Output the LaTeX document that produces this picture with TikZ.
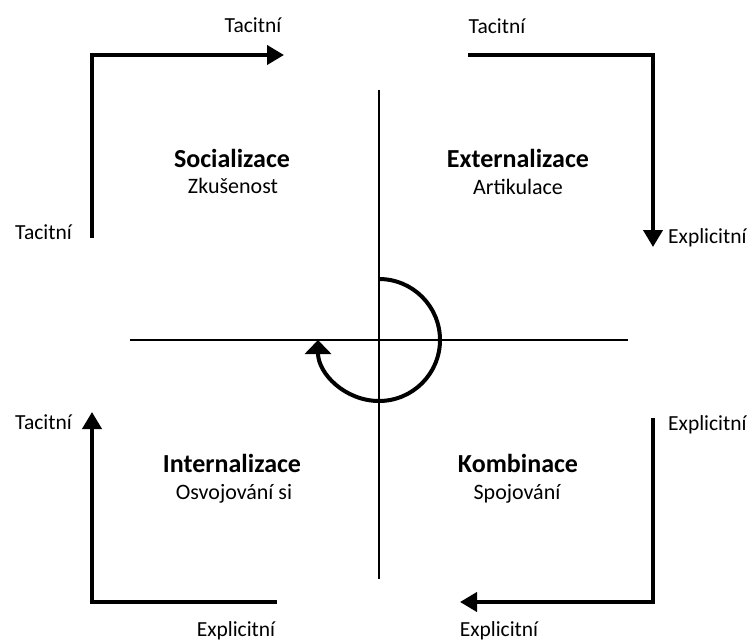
\documentclass[tikz,border=0pt]{standalone}
\usepackage{fontspec}
\setmainfont{Carlito}
\usetikzlibrary{arrows.meta}
\begin{document}
\begin{tikzpicture}[x=1pt,y=-1pt,
  lbl/.style={font=\fontsize{21.5}{26}\selectfont, inner sep=0pt},
  ttl/.style={font=\fontsize{26}{30}\selectfont\bfseries, inner sep=0pt},
  sub/.style={font=\fontsize{22}{26}\selectfont, inner sep=0pt},
  bigarrow/.style={line width=4pt, -{Triangle[length=17pt,width=19pt]}},
  axis/.style={line width=1.4pt}]
\useasboundingbox (0,0) rectangle (751,644);
% axes
\coordinate (vt) at (379,90);
\coordinate (vb) at (379,579);
\coordinate (hl) at (130,340);
\coordinate (hr) at (628,340);
\draw[axis] (vt) -- (vb);
\draw[axis] (hl) -- (hr);
% spiral circle
\coordinate (ctop) at (379,279);
\draw[line width=4pt, -{Triangle[length=14pt,width=26pt]}] (ctop) arc[start angle=-90, end angle=180, radius=61];
% corner arrows
\coordinate (a1s) at (92,238);
\coordinate (a1c) at (92,55);
\coordinate (a1e) at (284,55);
\draw[bigarrow] (a1s) -- (a1c) -- (a1e);
\coordinate (a2s) at (468,55);
\coordinate (a2c) at (653,55);
\coordinate (a2e) at (653,247);
\draw[bigarrow] (a2s) -- (a2c) -- (a2e);
\coordinate (a3s) at (653,418);
\coordinate (a3c) at (653,602);
\coordinate (a3e) at (460,602);
\draw[bigarrow] (a3s) -- (a3c) -- (a3e);
\coordinate (a4s) at (277,602);
\coordinate (a4c) at (92,602);
\coordinate (a4e) at (92,412);
\draw[bigarrow] (a4s) -- (a4c) -- (a4e);
% labels
\node[lbl] (t1) at (253,25) {Tacitní};
\node[lbl] (t2) at (497,26) {Tacitní};
\node[lbl, anchor=east] (t3) at (72,232) {Tacitní};
\node[lbl, anchor=west] (e1) at (668,238) {Explicitní};
\node[lbl, anchor=east] (t4) at (72,422) {Tacitní};
\node[lbl, anchor=west] (e2) at (668,425) {Explicitní};
\node[lbl] (e3) at (236,631) {Explicitní};
\node[lbl] (e4) at (499,631) {Explicitní};
% quadrant titles
\node[ttl] (soc) at (232,158) {Socializace};
\node[sub] (soc2) at (233,186) {Zkušenost};
\node[ttl] (ext) at (518,158) {Externalizace};
\node[sub] (ext2) at (518,187) {Artikulace};
\node[ttl] (int) at (232,463) {Internalizace};
\node[sub] (int2) at (234,494) {Osvojování si};
\node[ttl] (kom) at (518,463) {Kombinace};
\node[sub] (kom2) at (517,494) {Spojování};
\end{tikzpicture}
\end{document}
